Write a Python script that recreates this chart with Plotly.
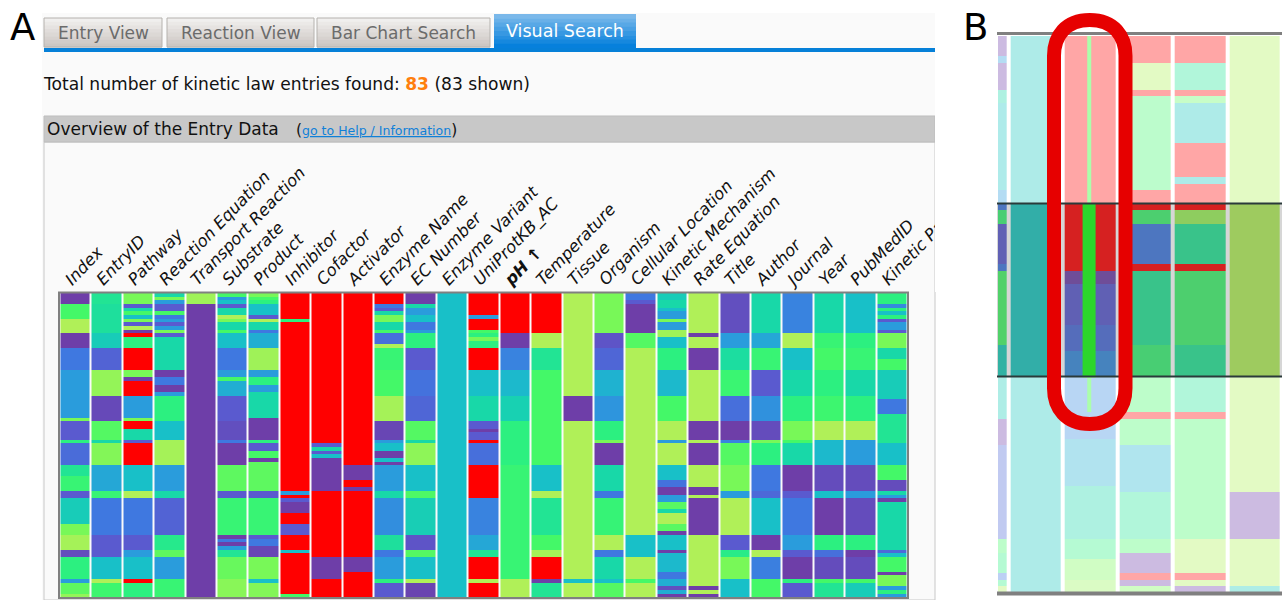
import plotly.graph_objects as go

W, H = 1282, 600
FONT = "DejaVu Sans"

# ---------- data: [row count, colour value] runs, 0 purple ... 9 yellow-green, 10 red ----------
columns_a = ["Index", "EntryID", "Pathway", "Reaction Equation", "Transport Reaction", "Substrate", "Product",
             "Inhibitor", "Cofactor", "Activator", "Enzyme Name", "EC Number", "Enzyme Variant", "UniProtKB_AC",
             "<b>pH ↑</b>", "Temperature", "Tissue", "Organism", "Cellular Location", "Kinetic Mechanism",
             "Rate Equation", "Title", "Author", "Journal", "Year", "PubMedID", "Kinetic Parameters"]

c_index = [[3,0],[4,7],[4,9],[4,0],[6,2],[13,3],[1,8],[5,1],[1,6],[6,1.6],[3,5.5],[4,6.5],[2,1],[7,4.5],[3,8],[4,8.8],[2,0.5],[6,6],[1,3],[3,7.5],[1,8.5]]
c_entry = [[3,5.5],[8,5.3],[4,4.5],[6,1.3],[7,8.5],[7,0.4],[5,7.3],[1,5],[6,8.2],[7,3.3],[2,6.5],[10,2],[6,1],[6,4],[1,9],[4,6.7]]
c_pathway = [[3,8],[1,1],[1,5],[1,7],[1,4],[1,8],[1,1],[1,9],[1,0],[1,10],[3,6],[6,10],[2,8],[1,0],[4,10],[6,3],[1,8],[2,10],[3,5],[1,1],[6,10],[7,4],[2,9],[10,2],[4,1],[2,3],[6,4],[1,10],[4,6]]
c_equation = [[1,5],[1,8],[1,3],[2,1],[1,7],[1,2],[1,3],[1,1],[1,3],[1,8],[1,1],[9,5],[2,0],[2,2],[2,0],[1,3],[7,6],[5,4],[7,8.8],[7,3],[2,5],[10,1.3],[4,5.7],[2,7.5],[6,3],[5,6.5]]
c_transport = [[3,8.7],[80,0]]
c_substrate = [[1,7],[1,3],[1,4],[1,1],[2,5],[1,9],[1,8],[2,5],[1,7],[4,4],[6,2],[2,3],[1,7],[4,3.5],[7,1],[5,0.6],[1,2],[6,0],[7,7.5],[2,1],[10,6.5],[1,0],[1,2],[1,0],[1,3],[2,5.5],[6,7.7],[5,8.3]]
c_product = [[1,8],[1,7],[1,6],[3,4],[1,1],[1,9],[2,5],[1,2],[4,3.5],[6,8.7],[2,3],[2,6],[2,3],[7,5],[6,0],[1,6],[2,1],[2,7],[1,0],[8,7.5],[2,1],[10,6.5],[1,1],[2,2],[3,0.3],[6,8],[1,4],[4,8.2]]
c_inhibitor = [[7,10],[1,6],[46,10],[1,3],[1,10],[1,1],[3,0],[3,10],[3,1],[4,10],[1,4],[11,10],[1,7]]
c_cofactor = [[41,10],[1,1],[1,5],[1,1],[1,4],[9,0],[18,10],[6,0],[5,10]]
c_activator = [[47,10],[4,0],[2,10],[1,0],[18,10],[4,0],[7,10]]
c_enzyme = [[3,10],[1,2],[1,1],[1,5],[2,8],[2,5],[1,7],[3,1.7],[1,9],[6,6.5],[7,7],[7,8.8],[5,0.3],[1,3],[2,4],[2,0],[1,4],[1,0],[7,3],[2,5],[10,2.6],[4,5.3],[2,2],[6,3],[1,6],[4,1]]
c_ec = [[3,0],[1,5],[2,3],[2,4],[2,2],[1,3],[4,6],[6,1],[7,1.8],[7,1.4],[5,7.3],[1,5],[6,8.4],[7,4],[2,7.2],[10,4.6],[4,0.8],[2,7.3],[6,4],[1,9],[4,0.2]]
c_variant = [[83,4]]
c_uniprot = [[6,10],[1,3],[3,10],[1,7],[1,6],[1,8],[2,6],[6,10],[7,4],[7,5],[2,1],[1,0],[2,1],[1,10],[6,1.7],[9,10],[10,2.3],[4,3.3],[2,5.5],[6,10],[1,9],[4,10]]
c_ph = [[11,10],[4,0],[6,2.3],[7,3.8],[7,4.7],[12,6],[31,6.5],[5,9]]
c_temperature = [[11,10],[4,9],[6,5.5],[26,7],[7,4],[2,9],[10,5.5],[4,7],[2,8.8],[6,10],[1,0],[4,5.5]]
c_tissue = [[28,9],[7,0],[43,9],[1,4],[4,9]]
c_organism = [[11,8],[4,0.8],[6,1.4],[7,3.6],[7,2.8],[5,6],[1,8],[6,0],[7,5],[2,2],[10,6.4],[4,9],[2,2],[6,5],[1,4],[4,7.3]]
c_location = [[2,2],[1,1],[8,0],[4,7.3],[51,9],[6,4],[6,9],[1,7],[4,9]]
c_mechanism = [[2,4.5],[2,5],[1,4],[2,3],[1,8],[2,3],[2,8.7],[3,4],[6,6],[7,3.8],[7,7],[5,9],[1,3],[6,9],[4,4],[2,1.8],[2,0],[2,3],[2,7.4],[1,5],[3,9],[2,7.4],[1,0],[4,4],[1,0],[5,3.8],[2,2],[2,3.5],[1,0.6],[1,3.5],[1,0]]
c_rate = [[11,9],[1,0],[3,9],[6,0],[14,9],[5,0],[1,9],[6,0],[6,9],[2,0],[1,9],[10,0],[14,9],[1,0],[1,9],[1,0]]
c_title = [[11,0.6],[4,3],[6,5.2],[7,6.6],[7,1.7],[5,0],[1,2.3],[6,7.3],[7,8],[2,3],[10,9],[4,1],[2,5.8],[6,8],[5,4]]
c_author = [[11,5],[4,3.3],[6,6.5],[7,1],[7,2.7],[5,0.5],[1,8],[6,6],[7,2],[2,1.5],[10,4],[4,0],[2,9],[6,2.2],[5,7]]
c_journal = [[11,2.3],[4,9],[6,4],[7,5],[7,6],[5,8],[1,7],[6,5],[7,0],[2,1],[10,2],[4,3],[2,1],[6,0],[1,6],[4,1]]
c_year = [[11,5],[4,6.5],[6,7],[7,6],[7,6.7],[5,9],[7,3.8],[7,0.5],[2,4],[10,0],[4,6],[2,1.7],[6,0.5],[1,7],[4,5.5]]
c_pubmed = [[11,4],[4,6],[6,6.5],[7,5],[7,6],[5,9],[7,3],[7,0.5],[2,3],[10,0.5],[4,6],[2,0],[6,0.5],[1,7],[4,4.5]]
c_kinetic = [[3,6],[1,2.5],[1,6],[1,4],[1,6],[1,1],[2,3],[1,1],[4,8],[3,5],[3,7],[8,4.5],[4,2],[8,5.5],[6,4],[4,7],[3,0.5],[1,5],[1,3],[1,0],[13,5],[1,1.5],[1,4],[4,7],[1,0],[3,8],[1,3],[1,6],[1,3]]

runs_a = [c_index, c_entry, c_pathway, c_equation, c_transport, c_substrate, c_product, c_inhibitor, c_cofactor,
          c_activator, c_enzyme, c_ec, c_variant, c_uniprot, c_ph, c_temperature, c_tissue, c_organism, c_location,
          c_mechanism, c_rate, c_title, c_author, c_journal, c_year, c_pubmed, c_kinetic]

b_0 = [[3,0],[1,3],[4,0],[2,5],[13,4.2],[2,3],[1,2],[2,6.5],[6,1],[1,2],[11,7],[5,4.5],[6,4.5],[4,0],[14,1.5],[2,7],[3,6],[1,2],[1,6],[1,9]]
b_1 = [[83,4.3]]
b_2 = [[35,10],[2,0],[6,1],[4,1.6],[4,2.5],[9,2.5],[7,3.5],[8,5],[3,6],[3,8],[2,8.5]]
b_3 = [[4,10],[4,9],[1,10],[14,6.8],[2,10],[1,10],[2,6.7],[6,2],[1,10],[11,5.5],[5,6.5],[5,7],[1,10],[4,7],[7,3.7],[7,5.5],[2,7],[3,0],[1,10],[1,0],[1,8]]
b_4 = [[4,10],[4,5.5],[1,10],[1,7.5],[6,4.3],[5,10],[1,4.3],[3,10],[1,10],[2,8.6],[6,5.5],[1,10],[11,6.8],[5,5.5],[5,5.5],[1,10],[18,7],[5,9],[1,10],[1,9],[1,0]]
b_5 = [[68,9],[7,0],[7,9],[1,4.5]]
runs_b = [b_0, b_1, b_2, b_3, b_4, b_5]

lime_thin = [[25,1],[26,None],[5,1],[27,None]]
lime_wide = [[25,None],[26,1],[32,None]]

tabs = [("Entry View", 44, 162), ("Reaction View", 167, 314), ("Bar Chart Search", 317, 490)]


def expand(runs):
    out = []
    for n, v in runs:
        out += [v] * n
    return out


def px(x):
    return x / W


def py(y):
    return 1 - y / H


palette = ["#6e3ea8", "#5a5acf", "#3f78e0", "#2a9cdc", "#18c0c8", "#18d8a8", "#2cf080",
           "#44f868", "#78f858", "#b0f058"]
scale = [[i / 10, c] for i, c in enumerate(palette)] + [[0.95, palette[-1]], [0.95, "#ff0000"], [1, "#ff0000"]]

cols_a = [expand(r) for r in runs_a]
cols_b = [expand(r) for r in runs_b]
z_a = [list(row) for row in zip(*cols_a)]
z_b = [list(row) for row in zip(*cols_b)]

fig = go.Figure()
fig.add_trace(go.Heatmap(z=z_a, x=columns_a, zmin=0, zmax=10, colorscale=scale, showscale=False, xgap=2,
                         xaxis="x", yaxis="y", hoverinfo="skip"))
fig.add_trace(go.Heatmap(z=z_b, x=[0, 1, 2, 3, 4, 5], zmin=0, zmax=10, colorscale=scale, showscale=False, xgap=4,
                         xaxis="x2", yaxis="y2", hoverinfo="skip"))
lime = [[0, "#10ff10"], [1, "#10ff10"]]
fig.add_trace(go.Heatmap(z=[[v] for v in expand(lime_thin)], x0=1.98, dx=0.075, colorscale=lime, showscale=False,
                         xaxis="x2", yaxis="y2", hoverinfo="skip"))
fig.add_trace(go.Heatmap(z=[[v] for v in expand(lime_wide)], x0=1.98, dx=0.245, colorscale=lime, showscale=False,
                         xaxis="x2", yaxis="y2", hoverinfo="skip"))

shapes = []


def rect(x0, y0, x1, y1, fill, layer="above", line=None, width=0, opacity=1):
    shapes.append(dict(type="rect", xref="paper", yref="paper", x0=px(x0), x1=px(x1), y0=py(y0), y1=py(y1),
                       fillcolor=fill, layer=layer, opacity=opacity,
                       line=dict(color=line or "rgba(0,0,0,0)", width=width)))


def gradient(x0, y0, x1, y1, top, bottom, steps=8):
    t = [int(top[i:i + 2], 16) for i in (1, 3, 5)]
    b = [int(bottom[i:i + 2], 16) for i in (1, 3, 5)]
    for s in range(steps):
        f = s / (steps - 1)
        c = "rgb(%d,%d,%d)" % tuple(t[i] + (b[i] - t[i]) * f for i in range(3))
        rect(x0, y0 + (y1 - y0) * s / steps, x1, y0 + (y1 - y0) * (s + 1) / steps + 0.5, c, layer="below")


# page of panel A
rect(42, 13, 935, 600, "#fafafa", layer="below")
rect(44, 142, 935, 600, "#fafafa", layer="below", line="#c8c8c8", width=1)
rect(44, 116, 935, 142, "#c8c8c8", layer="below", line="#bdbdbd", width=1)
for label, x0, x1 in tabs:
    gradient(x0, 18, x1, 47, "#f0efee", "#cdc7c3")
    rect(x0, 18, x1, 47, "rgba(0,0,0,0)", layer="below", line="#b5b2ae", width=1)
gradient(494, 14, 636, 48, "#7ab8ea", "#0680dc")
rect(44, 48, 935, 52, "#0680d8", layer="below")

# chart frame and the cover that clips the last column title
rect(59, 292.5, 908, 598, "rgba(0,0,0,0)", line="#808080", width=2)
rect(935, 0, 997, 292, "#ffffff")

# panel B overlays
rect(997, 36, 1282, 203, "#ffffff", opacity=0.65)
rect(997, 377, 1282, 593, "#ffffff", opacity=0.65)
rect(997, 203, 1282, 377, "rgb(112,112,112)", opacity=0.29)
for y, c, h in [(33.5, "#808080", 3), (203.5, "#2a3a3a", 2), (376.5, "#2a3a3a", 2), (593.5, "#808080", 4)]:
    rect(997, y - h / 2, 1282, y + h / 2, c)

# red capsule
L, R, T, B, r = 1054, 1125.5, 20, 424, 35.75
k = r * 0.45
capsule = (f"M {px(L)} {py(T + r)} C {px(L)} {py(T + k)} {px(L + r - k - 8)} {py(T)} {px(L + r)} {py(T)} "
           f"C {px(R - r + k + 8)} {py(T)} {px(R)} {py(T + k)} {px(R)} {py(T + r)} L {px(R)} {py(B - r)} "
           f"C {px(R)} {py(B - k)} {px(R - r + k + 8)} {py(B)} {px(L + r)} {py(B)} "
           f"C {px(L + r - k - 8)} {py(B)} {px(L)} {py(B - k)} {px(L)} {py(B - r)} Z")
shapes.append(dict(type="path", xref="paper", yref="paper", path=capsule, layer="above",
                   line=dict(color="#e60000", width=14)))


def note(text, x, y, size, color="#111111", anchor="left"):
    return dict(text=text, x=px(x), y=py(y), xref="paper", yref="paper", showarrow=False, xanchor=anchor,
                yanchor="middle", align="left", font=dict(family=FONT, size=size, color=color))


annots = [note("A", 8, 28, 37, "#000000"), note("B", 961, 28, 37, "#000000")]
for label, x0, x1 in tabs:
    annots.append(note(label, (x0 + x1) / 2, 33, 17, "#6b6b6b", "center"))
annots.append(note("Visual Search", 565, 31, 17.5, "#ffffff", "center"))
annots.append(note('Total number of kinetic law entries found: <span style="color:#ff7f0e"><b>83</b></span> (83 shown)',
                   41, 84, 17.1))
annots.append(note("Overview of the Entry Data", 45, 129, 17))
annots.append(note('(<span style="color:#1080d8;font-size:12.5px"><u>go to Help / Information</u></span>)', 294, 130, 15.5))

fig.update_layout(
    width=W, height=H, margin=dict(l=0, r=0, t=0, b=0), paper_bgcolor="#ffffff", plot_bgcolor="#ffffff",
    font=dict(family=FONT), showlegend=False, shapes=shapes, annotations=annots,
    xaxis=dict(domain=[px(59.5), px(907.5)], side="top", tickangle=-46, showgrid=False, zeroline=False, ticks="",
               tickfont=dict(family=FONT, size=16.5, color="#111111", style="italic"), ticklabeloverflow="allow",
               anchor="y", tickmode="array", tickvals=columns_a, ticktext=columns_a, automargin=False,
               ticklabelshift=-9),
    yaxis=dict(domain=[py(597.5), py(293)], autorange=False, range=[82.5, -0.5], visible=False, anchor="x"),
    xaxis2=dict(domain=[px(998), px(1282)], range=[0.311, 5.503], visible=False, anchor="y2"),
    yaxis2=dict(domain=[py(593), py(36)], range=[82.5, -0.5], visible=False, anchor="x2"),
)

fig.write_html("out.html", config={"displayModeBar": False},
               post_script="document.body.style.margin='0';document.body.style.overflow='hidden';")
